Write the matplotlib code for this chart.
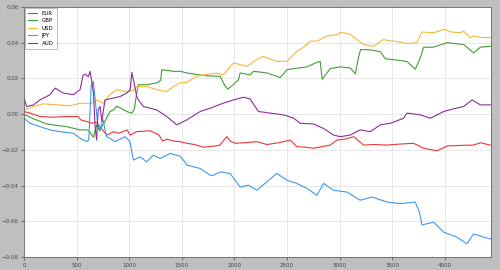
import matplotlib
matplotlib.use("Agg")
import matplotlib.pyplot as plt

labels = ["EUR", "GBP", "USD", "JPY", "AUD"]
colors = ["#e8353b", "#439c38", "#f8b73a", "#3d98ee", "#8c2e9c"]

eur_x = [0, 57, 150, 280, 410, 515, 540, 600, 645, 690, 760, 790, 850, 900, 980, 1010, 1070, 1200,
         1280, 1320, 1360, 1420, 1484, 1548, 1620, 1706, 1780, 1860, 1928, 1960, 2008, 2100, 2214,
         2309, 2420, 2531, 2595, 2680, 2753, 2850, 2911, 2975, 3050, 3134, 3229, 3330, 3451, 3560,
         3704, 3800, 3927, 4022, 4150, 4275, 4339, 4434]
eur_y = [0.0015, 0.0006, -0.0013, -0.0017, -0.0013, -0.0013, -0.0032, -0.0042, -0.0051, -0.0045,
         -0.0098, -0.0117, -0.0098, -0.0107, -0.0088, -0.0117, -0.0098, -0.0093, -0.0115, -0.0150,
         -0.0140, -0.0150, -0.0154, -0.0163, -0.0170, -0.0185, -0.0180, -0.0175, -0.0126, -0.0150,
         -0.0163, -0.0160, -0.0154, -0.0170, -0.0160, -0.0145, -0.0182, -0.0185, -0.0191, -0.0180,
         -0.0173, -0.0145, -0.0140, -0.0126, -0.0173, -0.0170, -0.0173, -0.0168, -0.0163, -0.0191,
         -0.0205, -0.0178, -0.0175, -0.0173, -0.0160, -0.0173]

gbp_x = [0, 79, 216, 300, 406, 530, 596, 620, 660, 690, 720, 750, 787, 818, 850, 882, 930, 977,
         1025, 1050, 1072, 1088, 1167, 1262, 1300, 1310, 1420, 1484, 1548, 1643, 1738, 1865, 1910,
         1935, 1980, 2039, 2055, 2150, 2182, 2309, 2436, 2500, 2563, 2690, 2785, 2816, 2835, 2911,
         3007, 3102, 3150, 3181, 3200, 3292, 3387, 3435, 3546, 3641, 3720, 3768, 3800, 3892, 4022,
         4180, 4275, 4339, 4434]
gbp_y = [0.0, -0.0023, -0.0055, -0.0062, -0.0070, -0.0088, -0.0088, -0.0095, -0.0130, -0.0060,
         -0.0095, -0.0060, -0.0020, 0.0015, 0.0024, 0.0045, 0.0030, 0.0015, 0.0005, 0.0030, 0.0120,
         0.0165, 0.0165, 0.0175, 0.0190, 0.0249, 0.0240, 0.0240, 0.0231, 0.0222, 0.0215, 0.0212,
         0.0160, 0.0140, 0.0160, 0.0193, 0.0231, 0.0220, 0.0240, 0.0231, 0.0205, 0.0249, 0.0255,
         0.0265, 0.0290, 0.0296, 0.0195, 0.0255, 0.0265, 0.0259, 0.0225, 0.0320, 0.0362, 0.0360,
         0.0350, 0.0310, 0.0303, 0.0295, 0.0252, 0.0315, 0.0375, 0.0375, 0.0400, 0.0390, 0.0343,
         0.0375, 0.0380]

usd_x = [0, 89, 184, 311, 438, 540, 628, 700, 750, 818, 882, 977, 1040, 1072, 1167, 1262, 1357,
         1421, 1484, 1548, 1643, 1770, 1833, 1897, 1992, 2119, 2214, 2277, 2309, 2404, 2500, 2595,
         2626, 2690, 2721, 2785, 2880, 2975, 3007, 3038, 3102, 3165, 3229, 3324, 3419, 3483, 3514,
         3641, 3736, 3784, 3895, 3990, 4060, 4149, 4180, 4244, 4275, 4339, 4434]
usd_y = [0.0024, 0.0043, 0.0058, 0.0052, 0.0047, 0.0062, 0.0058, 0.0080, 0.0060, 0.0110, 0.0137,
         0.0125, 0.0135, 0.0155, 0.0155, 0.0137, 0.0127, 0.0155, 0.0175, 0.0178, 0.0212, 0.0226,
         0.0230, 0.0221, 0.0287, 0.0268, 0.0306, 0.0324, 0.0315, 0.0296, 0.0296, 0.0352, 0.0362,
         0.0390, 0.0409, 0.0409, 0.0437, 0.0446, 0.0456, 0.0456, 0.0446, 0.0418, 0.0390, 0.0380,
         0.0418, 0.0409, 0.0410, 0.0395, 0.0400, 0.0460, 0.0456, 0.0475, 0.0460, 0.0456, 0.0465,
         0.0428, 0.0437, 0.0430, 0.0428]

jpy_x = [0, 57, 152, 247, 343, 469, 533, 596, 615, 640, 660, 680, 700, 720, 750, 785, 818, 866,
         913, 961, 1008, 1040, 1104, 1167, 1230, 1294, 1389, 1484, 1520, 1548, 1675, 1770, 1801,
         1865, 1960, 2055, 2134, 2214, 2309, 2404, 2500, 2595, 2690, 2785, 2848, 2943, 3070, 3197,
         3308, 3451, 3578, 3720, 3760, 3784, 3895, 3990, 4117, 4212, 4275, 4371, 4434]
jpy_y = [-0.0023, -0.0051, -0.0070, -0.0088, -0.0098, -0.0107, -0.0135, -0.0154, -0.0145, 0.0165,
         0.0183, 0.0060, -0.0050, -0.0088, -0.0030, -0.0126, -0.0135, -0.0154, -0.0140, -0.0126,
         -0.0154, -0.0257, -0.0239, -0.0267, -0.0229, -0.0248, -0.0220, -0.0235, -0.0260, -0.0285,
         -0.0304, -0.0342, -0.0342, -0.0323, -0.0332, -0.0408, -0.0398, -0.0426, -0.0379, -0.0332,
         -0.0370, -0.0388, -0.0416, -0.0454, -0.0388, -0.0426, -0.0436, -0.0482, -0.0464, -0.0492,
         -0.0501, -0.0492, -0.0550, -0.0620, -0.0605, -0.0661, -0.0689, -0.0726, -0.0670, -0.0689,
         -0.0698]

aud_x = [0, 25, 89, 152, 247, 295, 374, 469, 533, 560, 580, 612, 628, 644, 660, 676, 690, 705, 723,
         740, 755, 770, 850, 913, 977, 1010, 1025, 1045, 1072, 1088, 1135, 1262, 1357, 1452, 1548,
         1675, 1801, 1897, 1992, 2087, 2150, 2229, 2341, 2468, 2563, 2626, 2753, 2848, 2943, 3007,
         3100, 3197, 3292, 3387, 3483, 3609, 3641, 3768, 3863, 3990, 4085, 4180, 4260, 4339, 4434]
aud_y = [0.0090, 0.0043, 0.0052, 0.0080, 0.0109, 0.0146, 0.0118, 0.0109, 0.0137, 0.0215, 0.0225,
         0.0210, 0.0240, 0.0185, 0.0120, -0.0070, -0.0145, 0.0025, 0.0043, -0.0040, 0.0020, 0.0080,
         0.0090, 0.0099, 0.0118, 0.0137, 0.0235, 0.0180, 0.0099, 0.0080, 0.0043, 0.0024, -0.0013,
         -0.0060, -0.0032, 0.0015, 0.0040, 0.0062, 0.0080, 0.0095, 0.0085, 0.0015, 0.0006, -0.0004,
         -0.0022, -0.0051, -0.0055, -0.0080, -0.0117, -0.0126, -0.0117, -0.0088, -0.0098, -0.0060,
         -0.0051, -0.0023, 0.0006, -0.0004, -0.0023, 0.0015, 0.0030, 0.0043, 0.0080, 0.0052, 0.0052]

series = [(eur_x, eur_y), (gbp_x, gbp_y), (usd_x, usd_y), (jpy_x, jpy_y), (aud_x, aud_y)]

fig = plt.figure(figsize=(5, 2.7), dpi=100, facecolor="#bfbfbf")
ax = fig.add_axes([0.048, 0.048, 0.934, 0.926])
ax.set_facecolor("white")
for (xs, ys), lab, c in zip(series, labels, colors):
    ax.plot(xs, ys, color=c, lw=0.8, label=lab)

ax.set_xlim(0, 4440)
ax.set_ylim(-0.08, 0.06)
ax.set_xticks([0, 500, 1000, 1500, 2000, 2500, 3000, 3500, 4000])
ax.set_yticks([-0.08, -0.06, -0.04, -0.02, 0.0, 0.02, 0.04, 0.06])
ax.set_yticklabels(["\u22120.08", "\u22120.06", "\u22120.04", "\u22120.02", "0.00", "0.02", "0.04", "0.06"])
ax.tick_params(labelsize=4, colors="#444444", length=2, width=0.5, pad=2)
ax.grid(True, color="#e4e4e4", lw=0.6)
for s in ax.spines.values():
    s.set_color("#666666")
    s.set_linewidth(0.6)
leg = ax.legend(loc="upper left", fontsize=4, frameon=True, fancybox=False,
                handlelength=1.6, handletextpad=0.9, borderpad=0.5, labelspacing=0.45,
                borderaxespad=0.2)
leg.get_frame().set_edgecolor("#888888")
leg.get_frame().set_linewidth(0.5)
fig.savefig("out.png", dpi=100, facecolor=fig.get_facecolor())
